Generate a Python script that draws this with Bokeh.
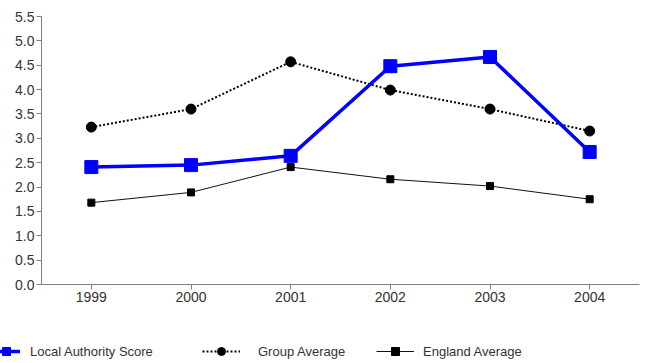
from bokeh.plotting import figure
from bokeh.layouts import column
from bokeh.models import Legend, LegendItem, FactorRange, Range1d, FixedTicker
from bokeh.embed import file_html
from bokeh.resources import INLINE

years = ["1999", "2000", "2001", "2002", "2003", "2004"]
local_authority = [2.41, 2.45, 2.64, 4.48, 4.67, 2.72]
group_average = [3.23, 3.60, 4.57, 3.99, 3.60, 3.15]
england_average = [1.68, 1.89, 2.41, 2.16, 2.02, 1.75]
y_ticks = [0.0, 0.5, 1.0, 1.5, 2.0, 2.5, 3.0, 3.5, 4.0, 4.5, 5.0, 5.5]
series_labels = ["Local Authority Score", "Group Average", "England Average"]
series_values = [local_authority, group_average, england_average]

FONT = "Liberation Sans"
TEXT = "#333333"

# series styles: (line kwargs, marker kwargs)
STYLES = [
    (dict(line_color="#0000FF", line_width=3.5),
     dict(marker="square", size=13, fill_color="#0000FF", line_color="#0000FF")),
    (dict(line_color="#000000", line_width=2, line_dash="2 2"),
     dict(marker="circle", size=10, fill_color="#000000", line_color="#000000")),
    (dict(line_color="#111111", line_width=1),
     dict(marker="square", size=7, fill_color="#000000", line_color="#000000")),
]

p = figure(width=663, height=320, x_range=FactorRange(*years),
           y_range=Range1d(0, 5.5), output_backend="svg",
           toolbar_location=None, min_border_left=41, min_border_right=24,
           min_border_top=16, min_border_bottom=36)
p.frame_align = False
p.outline_line_color = None
p.xgrid.grid_line_color = None
p.ygrid.grid_line_color = None

for ax in (p.xaxis[0], p.yaxis[0]):
    ax.axis_line_color = "#808080"
    ax.major_tick_line_color = "#808080"
    ax.minor_tick_line_color = None
    ax.major_tick_in = 0
    ax.major_tick_out = 5
    ax.major_label_text_font = FONT
    ax.major_label_text_font_size = "14px"
    ax.major_label_text_color = TEXT
    ax.major_label_standoff = 2

p.yaxis.ticker = FixedTicker(ticks=y_ticks)
p.yaxis.major_label_overrides = {t: f"{t:.1f}" for t in y_ticks}

# draw bottom series first so the local authority line sits on top
for values, (line_kw, marker_kw) in reversed(list(zip(series_values, STYLES))):
    p.line(years, values, **line_kw)
    p.scatter(years, values, **marker_kw)

# legend strip underneath the chart; its renderers only feed the key glyphs
key = figure(width=663, height=43, x_range=FactorRange(*years),
             y_range=Range1d(0, 5.5), output_backend="svg",
             toolbar_location=None, min_border=0,
             x_axis_location=None, y_axis_location=None)
key.frame_align = False
key.outline_line_color = None
key.grid.visible = False

key_layout = [(-8, 28, 10), (202, 38, 18), (376, 38, 9)]
for label, values, (line_kw, marker_kw), (x, gw, standoff) in zip(
        series_labels, series_values, STYLES, key_layout):
    rl = key.line(years, values, visible=False, **line_kw)
    rm = key.scatter(years, values, visible=False, **marker_kw)
    leg = Legend(items=[LegendItem(label=label, renderers=[rl, rm])],
                 location=(x, 2), glyph_width=gw, glyph_height=20,
                 label_standoff=standoff, label_text_font=FONT,
                 label_text_font_size="13px", label_text_color=TEXT,
                 border_line_alpha=0, background_fill_alpha=0,
                 padding=0, margin=0, spacing=0)
    key.add_layout(leg, "center")

open("out.html", "w").write(file_html(column(p, key, spacing=0), INLINE))
